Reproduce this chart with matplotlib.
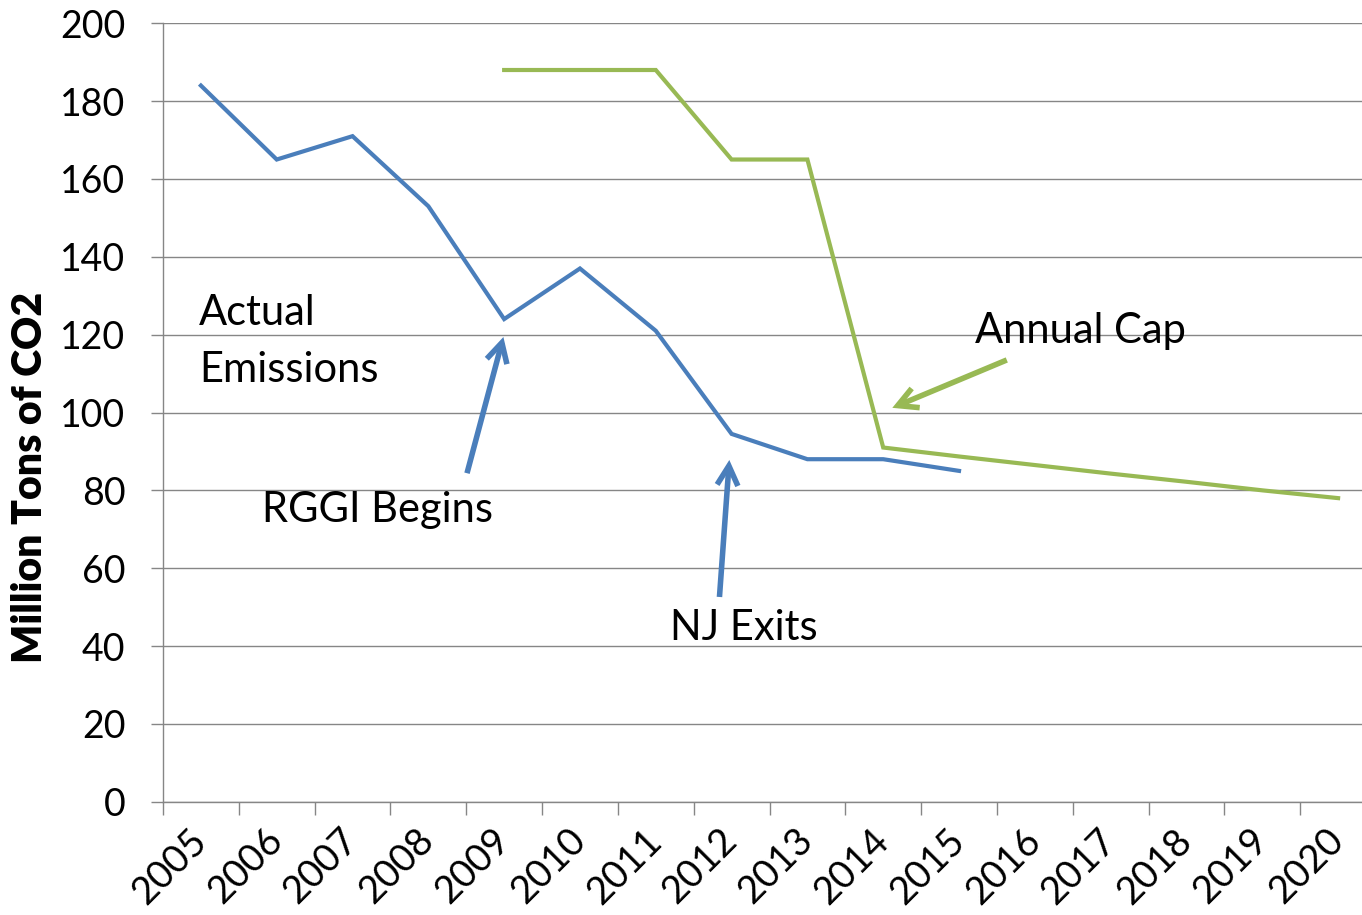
import matplotlib
matplotlib.use("Agg")
import matplotlib.pyplot as plt
from matplotlib.ticker import FixedLocator, NullFormatter

years = ["2005", "2006", "2007", "2008", "2009", "2010", "2011", "2012",
         "2013", "2014", "2015", "2016", "2017", "2018", "2019", "2020"]
emissions = [184, 165, 171, 153, 124, 137, 121, 94.5, 88, 88, 85]
cap_years_start = 4  # cap series starts at 2009
cap = [188, 188, 188, 165, 165, 91, 88.7, 86.5, 84.3, 82.2, 80.0, 78.0]
yticks = [0, 20, 40, 60, 80, 100, 120, 140, 160, 180, 200]

plt.rcParams['font.family'] = ['Lato', 'DejaVu Sans']

W, H = 1362, 915
fig = plt.figure(figsize=(W / 100, H / 100), dpi=100)
left, right, top, bottom = 163, 1376, 23.3, 801.7
ax = fig.add_axes([left / W, (H - bottom) / H, (right - left) / W, (bottom - top) / H])

grey = "#868686"
blue = "#4A7EBB"
green = "#98B954"

n = len(years)
xe = [i + 0.5 for i in range(len(emissions))]
xc = [cap_years_start + i + 0.5 for i in range(len(cap))]
ax.plot(xe, emissions, color=blue, lw=3, solid_joinstyle='miter', zorder=3)
ax.plot(xc, cap, color=green, lw=3, solid_joinstyle='miter', zorder=3)

ax.set_xlim(0, n)
ax.set_ylim(0, 200)
ax.set_yticks(yticks)
ax.set_yticklabels([str(v) for v in yticks])
ax.yaxis.grid(True, color=grey, lw=1)
ax.set_axisbelow(True)

ax.xaxis.set_major_locator(FixedLocator(list(range(n + 1))))
ax.xaxis.set_major_formatter(NullFormatter())
ax.xaxis.set_minor_locator(FixedLocator([i + 0.5 for i in range(n)]))
ax.set_xticklabels(years, minor=True)
ax.tick_params(axis='x', which='major', length=9, width=1, color=grey, direction='out')
ax.tick_params(axis='x', which='minor', length=0, pad=24, labelsize=27.5)
for lab in ax.get_xticklabels(minor=True):
    lab.set_rotation(45)
    lab.set_rotation_mode('anchor')
    lab.set_ha('right')
    lab.set_va('center')
ax.tick_params(axis='y', length=9, width=1, color=grey, direction='out', pad=18, labelsize=27)

for s in ['top', 'right']:
    ax.spines[s].set_visible(False)
for s in ['left', 'bottom']:
    ax.spines[s].set_color(grey)
    ax.spines[s].set_linewidth(1)

ax.set_ylabel("Million Tons of CO2", fontsize=29.5, fontweight='heavy')
ax.yaxis.set_label_coords(-0.094, 0.416)

tfs = 30
ax.text(0.475, 122.5, "Actual", fontsize=tfs, va='baseline', ha='left')
ax.text(0.475, 107.9, "Emissions", fontsize=tfs, va='baseline', ha='left')
ax.text(1.31, 71.9, "RGGI Begins", fontsize=tfs, va='baseline', ha='left')
ax.text(6.69, 41.5, "NJ Exits", fontsize=tfs, va='baseline', ha='left')
ax.text(10.71, 117.9, "Annual Cap", fontsize=tfs, va='baseline', ha='left')

def arrow(tail, tip, color):
    ax.annotate("", xy=tip, xytext=tail,
                arrowprops=dict(arrowstyle="->,head_length=1.4,head_width=0.75",
                                color=color, lw=4, shrinkA=0, shrinkB=0,
                                capstyle='butt', joinstyle='miter'))

arrow((4.01, 84.4), (4.49, 119.4), blue)
arrow((7.34, 52.6), (7.47, 87.8), blue)
arrow((11.13, 113.5), (9.62, 101.2), green)

fig.savefig("out.png", dpi=100)
